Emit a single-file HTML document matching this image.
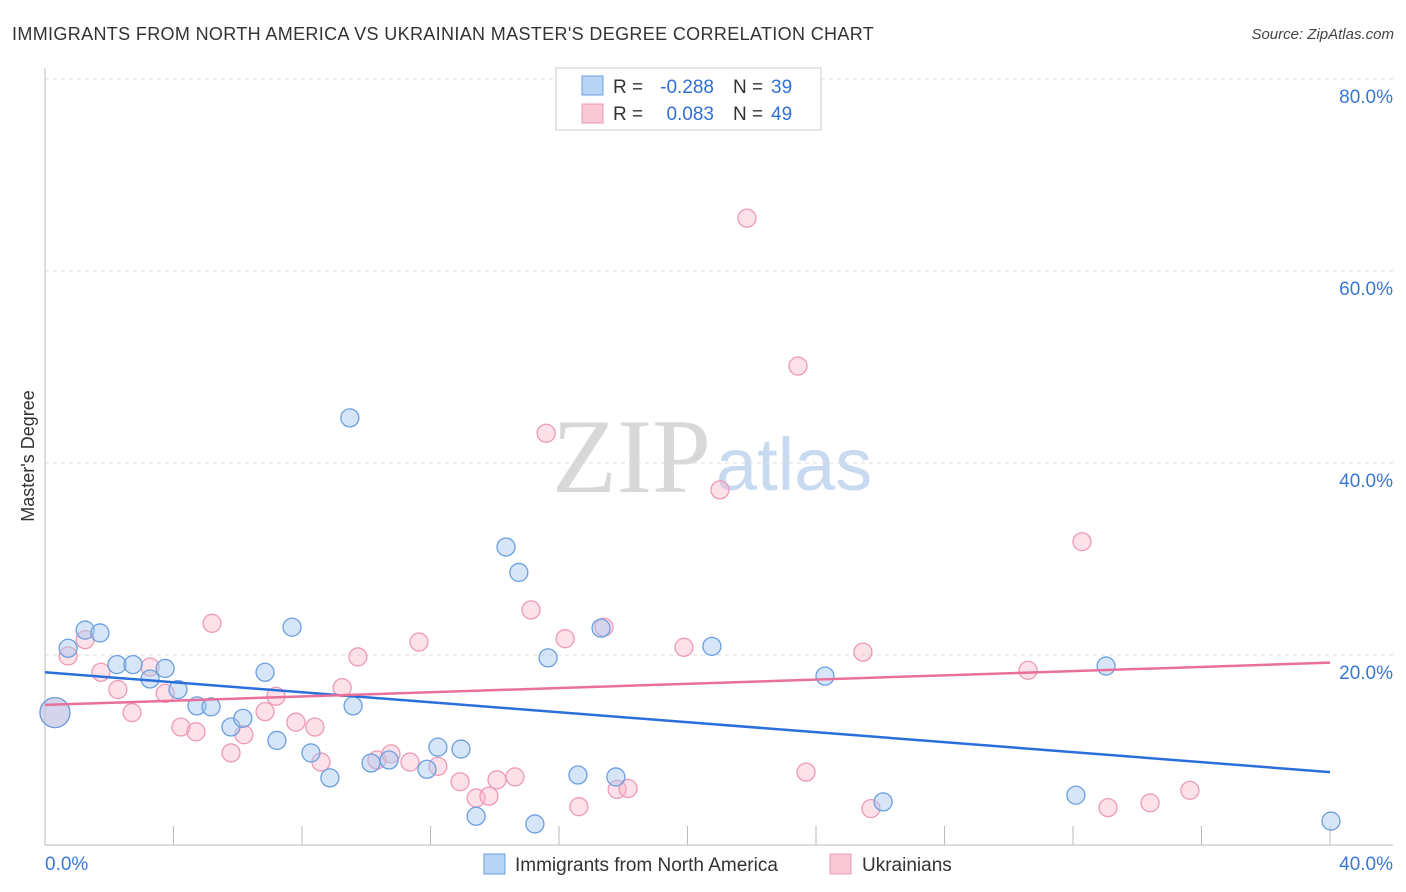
<!DOCTYPE html>
<html><head><meta charset="utf-8"><style>
body{margin:0;background:#fff;font-family:"Liberation Sans",sans-serif}
svg{display:block}
</style></head><body>
<svg id="c" width="1406" height="892">
<text x="12" y="40" font-size="18" letter-spacing="0.35" fill="#333">IMMIGRANTS FROM NORTH AMERICA VS UKRAINIAN MASTER'S DEGREE CORRELATION CHART</text>
<text x="1394" y="39" font-size="15" font-style="italic" fill="#444" text-anchor="end">Source: ZipAtlas.com</text>
<g>
<text x="552" y="492" font-family="Liberation Serif,serif" font-size="106" fill="#d8d8d8">ZIP</text>
<text x="716" y="490" font-size="74" fill="#c8daf0">atlas</text>
</g>
<g id="grid"></g>
<g id="axes"></g>
<g id="marks"></g>
<g>
<rect x="556" y="68" width="265" height="62" fill="#fff" stroke="#ccc"/>
<rect x="582" y="76" width="21" height="19" fill="#b8d4f4" stroke="#6a9fe0"/>
<rect x="582" y="104" width="21" height="19" fill="#fbc8d6" stroke="#ee9ab4"/>
<text x="613" y="93" font-size="19" fill="#333">R =</text>
<text x="714" y="93" font-size="19" fill="#2f6fd6" text-anchor="end">-0.288</text>
<text x="733" y="93" font-size="19" fill="#333">N =</text>
<text x="771" y="93" font-size="19" fill="#2f6fd6">39</text>
<text x="613" y="120" font-size="19" fill="#333">R =</text>
<text x="714" y="120" font-size="19" fill="#2f6fd6" text-anchor="end">0.083</text>
<text x="733" y="120" font-size="19" fill="#333">N =</text>
<text x="771" y="120" font-size="19" fill="#2f6fd6">49</text>
</g>
<g>
<rect x="484" y="854" width="21" height="20" fill="#b8d4f4" stroke="#6a9fe0"/>
<text x="515" y="871" font-size="19" fill="#333">Immigrants from North America</text>
<rect x="830" y="854" width="21" height="20" fill="#fbc8d6" stroke="#ee9ab4"/>
<text x="862" y="871" font-size="19" fill="#333">Ukrainians</text>
</g>
<text x="34" y="456" font-size="18" fill="#333" text-anchor="middle" transform="rotate(-90 34 456)">Master's Degree</text>
</svg>
<script>
const yTicks=[20,40,60,80];
const yTickLabels=["20.0%","40.0%","60.0%","80.0%"];
const xTickLabels=["0.0%","40.0%"];
const blueX=[0.72,1.25,1.71,2.24,2.74,3.27,3.74,4.14,4.73,5.17,5.79,6.16,6.85,7.22,7.69,8.28,8.87,9.49,9.59,10.15,10.71,11.89,12.23,12.95,13.42,14.35,14.75,15.25,15.66,16.59,17.31,17.77,20.76,24.28,26.09,32.09,33.03,40.03,0.31];
const blueY=[20.7,22.6,22.3,19.0,19.0,17.5,18.6,16.4,14.7,14.6,12.5,13.4,18.2,11.1,22.9,9.8,7.2,44.7,14.7,8.75,9.06,8.1,10.4,10.2,3.2,31.25,28.6,2.4,19.7,7.5,22.8,7.3,20.9,17.8,4.7,5.4,18.85,2.7,14.0];
const pinkX=[0.72,1.25,1.74,2.27,2.71,3.27,3.74,4.23,4.70,5.20,5.79,6.19,6.85,7.19,7.81,8.40,8.59,9.25,9.74,10.33,10.77,11.36,11.64,12.23,12.92,13.42,13.82,14.07,14.63,15.13,15.60,16.19,16.62,17.40,17.81,18.15,19.89,21.01,21.85,23.44,23.69,25.46,25.71,30.60,32.28,33.09,34.40,35.64,0.31];
const pinkY=[19.9,21.6,18.2,16.4,14.0,18.75,16.0,12.5,12.0,23.3,9.8,11.7,14.1,15.7,13.0,12.5,8.85,16.6,19.8,9.06,9.7,8.85,21.35,8.4,6.8,5.1,5.3,7.0,7.3,24.7,43.1,21.7,4.2,22.9,6.0,6.1,20.8,37.2,65.5,50.1,7.8,20.3,4.0,18.4,31.8,4.1,4.6,5.9,14.0];
const blueTrend=[18.2,7.8];
const pinkTrend=[14.8,19.2];
const bigIdxBlue=38, bigIdxPink=48;
const NS="http://www.w3.org/2000/svg";
const X=v=>45+v*32.125, Y=v=>847-v*9.6;
function mk(t,a,p){const e=document.createElementNS(NS,t);for(const k in a)e.setAttribute(k,a[k]);p.appendChild(e);return e;}
const grid=document.getElementById('grid'),axes=document.getElementById('axes'),marks=document.getElementById('marks');
yTicks.forEach((v,i)=>{
 const l=mk('line',{x1:45,x2:1393,y1:Y(v),y2:Y(v),stroke:'#ddd','stroke-dasharray':'4 4'},grid);
 
 
 const t=mk('text',{x:1393,y:Y(v)+24,'font-size':19,fill:'#3a78d8','text-anchor':'end'},grid);
 t.textContent=yTickLabels[i];
 
 
});
const ya=mk('line',{x1:45,x2:45,y1:68,y2:845,stroke:'#bbb'},axes);


const xa=mk('line',{x1:45,x2:1393,y1:845,y2:845,stroke:'#bbb'},axes);


for(let v=4;v<=40;v+=4){
 const tk=mk('line',{x1:X(v),x2:X(v),y1:826,y2:845,stroke:'#bbb'},axes);
 
 
}
const xl0=mk('text',{x:45,y:870,'font-size':19,fill:'#3a78d8'},axes);xl0.textContent=xTickLabels[0];


const xl1=mk('text',{x:1393,y:870,'font-size':19,fill:'#3a78d8','text-anchor':'end'},axes);xl1.textContent=xTickLabels[1];


function pts(xs,ys,big,fill,stroke,name){
 xs.forEach((x,i)=>{
  const c=mk('circle',{cx:X(x),cy:Y(ys[i]),r:i===big?15:9,fill:fill,stroke:stroke,'stroke-width':1.3},marks);
  
  
 });
}
pts(pinkX,pinkY,bigIdxPink,'rgba(248,180,200,0.4)','#ee9ab4','ukrainian-point');
pts(blueX,blueY,bigIdxBlue,'rgba(164,200,240,0.45)','#6a9fe0','north-america-point');
const bl=mk('line',{x1:X(0),x2:X(40),y1:Y(blueTrend[0]),y2:Y(blueTrend[1]),stroke:'#2a6fdb','stroke-width':2.5},marks);


const pl=mk('line',{x1:X(0),x2:X(40),y1:Y(pinkTrend[0]),y2:Y(pinkTrend[1]),stroke:'#e8709a','stroke-width':2.5},marks);


</script>
</body></html>
